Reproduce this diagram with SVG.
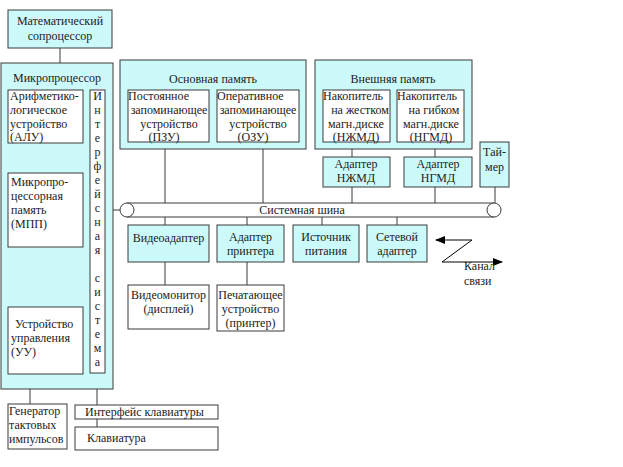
<svg xmlns="http://www.w3.org/2000/svg" width="623" height="467" viewBox="0 0 623 467">
<style>
.c{fill:#ccfafa;stroke:#3a3a3a;stroke-width:1}
.w{fill:#ffffff;stroke:#3a3a3a;stroke-width:1}
text{font-family:"Liberation Serif","DejaVu Serif",serif;font-size:12px;fill:#222}
.m{text-anchor:middle}
.l{stroke:#3a3a3a;stroke-width:1;fill:none}
</style>
<defs>
<marker id="ar" markerWidth="10" markerHeight="8" refX="9" refY="4" orient="auto" markerUnits="userSpaceOnUse">
<path d="M0,0 L10,4 L0,8 Z" fill="#000"/>
</marker>
</defs>
<rect width="623" height="467" fill="#fff"/>
<g id="connectors">
<line class="l" x1="60" y1="48" x2="60" y2="63"/>
<line class="l" x1="165" y1="149" x2="165" y2="203"/>
<line class="l" x1="263" y1="149" x2="263" y2="203"/>
<line class="l" x1="352" y1="149" x2="352" y2="157"/>
<line class="l" x1="435" y1="149" x2="435" y2="157"/>
<line class="l" x1="352" y1="187" x2="352" y2="203"/>
<line class="l" x1="435" y1="187" x2="435" y2="203"/>
<line class="l" x1="495" y1="187" x2="495" y2="203"/>
<line class="l" x1="106" y1="210" x2="120" y2="210"/>
<line class="l" x1="165" y1="217" x2="165" y2="225"/>
<line class="l" x1="247" y1="217" x2="247" y2="225"/>
<line class="l" x1="322" y1="217" x2="322" y2="225"/>
<line class="l" x1="397" y1="217" x2="397" y2="225"/>
<line class="l" x1="165" y1="262" x2="165" y2="285"/>
<line class="l" x1="247" y1="262" x2="247" y2="285"/>
<line class="l" x1="30" y1="389" x2="30" y2="404"/>
<line class="l" x1="97" y1="389" x2="97" y2="405"/>
<line class="l" x1="97" y1="419" x2="97" y2="427"/>
<line x1="472" y1="240" x2="436" y2="240" stroke="#000" stroke-width="1" marker-end="url(#ar)"/>
<line x1="472" y1="240" x2="442" y2="262" stroke="#000" stroke-width="1"/>
<line x1="442" y1="262" x2="502" y2="262" stroke="#000" stroke-width="1" marker-end="url(#ar)"/>
</g>
<g id="coprocessor">
<rect class="c" x="8" y="10" width="104" height="38"/>
<text x="60" y="25" class="m">Математический</text>
<text x="60" y="40" class="m">сопроцессор</text>
</g>
<g id="microprocessor">
<rect class="c" x="1" y="63" width="112" height="326"/>
<text x="57" y="82" class="m">Микропроцессор</text>
</g>
<g id="alu">
<rect class="w" x="8" y="90" width="75" height="53"/>
<text x="10" y="100">Арифметико-</text>
<text x="10" y="114">логическое</text>
<text x="10" y="128">устройство</text>
<text x="10" y="141">(АЛУ)</text>
</g>
<g id="mpp">
<rect class="w" x="8" y="173" width="75" height="74"/>
<text x="11" y="186">Микропро-</text>
<text x="11" y="200">цессорная</text>
<text x="11" y="214">память</text>
<text x="11" y="228">(МПП)</text>
</g>
<g id="uu">
<rect class="w" x="8" y="307" width="75" height="67"/>
<text x="15" y="328">Устройство</text>
<text x="11" y="342">управления</text>
<text x="11" y="356">(УУ)</text>
</g>
<g id="interface">
<rect class="w" x="90" y="90" width="15" height="283"/>
<text x="97.5" y="100" class="m">И</text>
<text x="97.5" y="114" class="m">н</text>
<text x="97.5" y="128" class="m">т</text>
<text x="97.5" y="142" class="m">е</text>
<text x="97.5" y="156" class="m">р</text>
<text x="97.5" y="170" class="m">ф</text>
<text x="97.5" y="184" class="m">е</text>
<text x="97.5" y="198" class="m">й</text>
<text x="97.5" y="212" class="m">с</text>
<text x="97.5" y="226" class="m">н</text>
<text x="97.5" y="240" class="m">а</text>
<text x="97.5" y="254" class="m">я</text>
<text x="97.5" y="282" class="m">с</text>
<text x="97.5" y="296" class="m">и</text>
<text x="97.5" y="310" class="m">с</text>
<text x="97.5" y="324" class="m">т</text>
<text x="97.5" y="338" class="m">е</text>
<text x="97.5" y="352" class="m">м</text>
<text x="97.5" y="366" class="m">а</text>
</g>
<g id="main-memory">
<rect class="c" x="120" y="60" width="186" height="89"/>
<text x="213" y="83" class="m">Основная память</text>
</g>
<g id="rom">
<rect class="w" x="128" y="90" width="81" height="52"/>
<text x="128" y="100">Постоянное</text>
<text x="169" y="114" class="m">запоминающее</text>
<text x="169" y="128" class="m">устройство</text>
<text x="164" y="141" class="m">(ПЗУ)</text>
</g>
<g id="ram">
<rect class="w" x="217" y="90" width="82" height="52"/>
<text x="217" y="100">Оперативное</text>
<text x="258" y="114" class="m">запоминающее</text>
<text x="258" y="128" class="m">устройство</text>
<text x="253" y="141" class="m">(ОЗУ)</text>
</g>
<g id="ext-memory">
<rect class="c" x="315" y="60" width="157" height="89"/>
<text x="393" y="83" class="m">Внешняя память</text>
</g>
<g id="hdd">
<rect class="w" x="323" y="90" width="67" height="52"/>
<text x="323" y="100">Накопитель</text>
<text x="360" y="114" class="m">на жестком</text>
<text x="356" y="128" class="m">магн.диске</text>
<text x="356" y="141" class="m">(НЖМД)</text>
</g>
<g id="fdd">
<rect class="w" x="397" y="90" width="67" height="52"/>
<text x="397" y="100">Накопитель</text>
<text x="434" y="114" class="m">на гибком</text>
<text x="431" y="128" class="m">магн.диске</text>
<text x="431" y="141" class="m">(НГМД)</text>
</g>
<g id="hdd-adapter">
<rect class="c" x="323" y="157" width="67" height="30"/>
<text x="356" y="168" class="m">Адаптер</text>
<text x="356" y="182" class="m">НЖМД</text>
</g>
<g id="fdd-adapter">
<rect class="c" x="404" y="157" width="68" height="30"/>
<text x="438" y="168" class="m">Адаптер</text>
<text x="438" y="182" class="m">НГМД</text>
</g>
<g id="timer">
<rect class="c" x="480" y="142" width="29" height="45"/>
<text x="494.5" y="156" class="m">Тай-</text>
<text x="494.5" y="171" class="m">мер</text>
</g>
<g id="bus">
<rect x="127" y="203" width="367" height="14" fill="#fff" stroke="none"/>
<line class="l" x1="127" y1="203" x2="494" y2="203"/>
<line class="l" x1="127" y1="217" x2="494" y2="217"/>
<circle class="w" cx="127" cy="210" r="7"/>
<circle class="w" cx="494" cy="210" r="7"/>
<text x="302" y="214" class="m">Системная шина</text>
</g>
<g id="video-adapter">
<rect class="c" x="128" y="225" width="81" height="37"/>
<text x="168.5" y="242" class="m">Видеоадаптер</text>
</g>
<g id="printer-adapter">
<rect class="c" x="217" y="225" width="67" height="37"/>
<text x="250.5" y="241" class="m">Адаптер</text>
<text x="250.5" y="255" class="m">принтера</text>
</g>
<g id="power">
<rect class="c" x="293" y="225" width="66" height="37"/>
<text x="326" y="241" class="m">Источник</text>
<text x="326" y="255" class="m">питания</text>
</g>
<g id="network-adapter">
<rect class="c" x="367" y="225" width="60" height="37"/>
<text x="397" y="241" class="m">Сетевой</text>
<text x="397" y="255" class="m">адаптер</text>
</g>
<g id="monitor">
<rect class="w" x="128" y="285" width="81" height="44"/>
<text x="168.5" y="299" class="m">Видеомонитор</text>
<text x="168.5" y="313" class="m">(дисплей)</text>
</g>
<g id="printer">
<rect class="w" x="217" y="285" width="67" height="46"/>
<text x="250.5" y="299" class="m">Печатающее</text>
<text x="250.5" y="313" class="m">устройство</text>
<text x="250.5" y="327" class="m">(принтер)</text>
</g>
<g id="channel">
<text x="464" y="270">Канал</text>
<text x="464" y="285">связи</text>
</g>
<g id="generator">
<rect class="w" x="8" y="404" width="59" height="45"/>
<text x="9" y="415">Генератор</text>
<text x="9" y="429">тактовых</text>
<text x="9" y="443">импульсов</text>
</g>
<g id="keyboard-interface">
<rect class="w" x="75" y="405" width="143" height="14"/>
<text x="85" y="416">Интерфейс клавиатуры</text>
</g>
<g id="keyboard">
<rect class="w" x="75" y="427" width="143" height="23"/>
<text x="87" y="442">Клавиатура</text>
</g>
</svg>
